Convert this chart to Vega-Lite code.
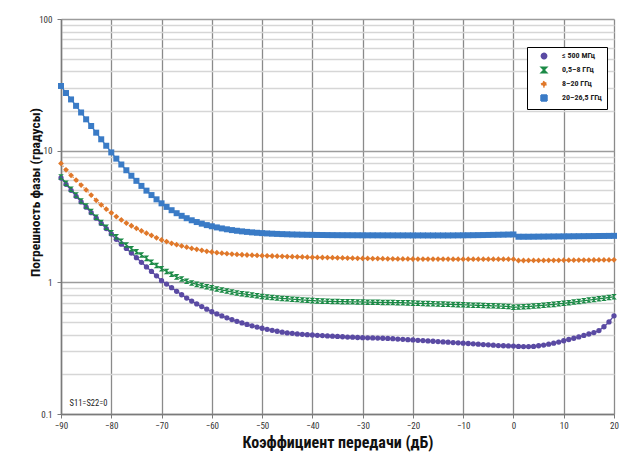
{
"$schema": "https://vega.github.io/schema/vega-lite/v6.json",
"width": 553, "height": 395,
"autosize": {"type": "none"},
"padding": {"left": 61, "top": 19, "right": 6, "bottom": 41},
"background": "white",
"config": {"view": {"stroke": null}, "font": "Liberation Sans Narrow, Roboto Condensed, Liberation Sans, sans-serif"},
"datasets": {
"curves": [
{"x":-90,"p":6.2,"g":6.3,"o":8.0,"b":31},
{"x":-89,"p":5.55,"g":5.65,"o":7.15,"b":27.4},
{"x":-88,"p":5.0,"g":5.1,"o":6.5,"b":24.5},
{"x":-87,"p":4.5,"g":4.6,"o":5.98,"b":21.9},
{"x":-86,"p":4.08,"g":4.15,"o":5.48,"b":19.5},
{"x":-85,"p":3.72,"g":3.8,"o":5.03,"b":17.3},
{"x":-84,"p":3.38,"g":3.45,"o":4.6,"b":15.4},
{"x":-83,"p":3.07,"g":3.12,"o":4.2,"b":13.7},
{"x":-82,"p":2.8,"g":2.85,"o":3.88,"b":12.2},
{"x":-81,"p":2.56,"g":2.62,"o":3.6,"b":10.9},
{"x":-80,"p":2.33,"g":2.38,"o":3.37,"b":9.7},
{"x":-79,"p":2.12,"g":2.22,"o":3.16,"b":8.7},
{"x":-78,"p":1.95,"g":2.05,"o":2.98,"b":7.85},
{"x":-77,"p":1.81,"g":1.92,"o":2.82,"b":7.1},
{"x":-76,"p":1.67,"g":1.8,"o":2.69,"b":6.45},
{"x":-75,"p":1.54,"g":1.71,"o":2.57,"b":5.9},
{"x":-74,"p":1.42,"g":1.61,"o":2.46,"b":5.4},
{"x":-73,"p":1.31,"g":1.52,"o":2.36,"b":4.97},
{"x":-72,"p":1.21,"g":1.42,"o":2.27,"b":4.6},
{"x":-71,"p":1.12,"g":1.34,"o":2.18,"b":4.27},
{"x":-70,"p":1.03,"g":1.27,"o":2.1,"b":3.98},
{"x":-69,"p":0.97,"g":1.21,"o":2.04,"b":3.74},
{"x":-68,"p":0.91,"g":1.15,"o":1.98,"b":3.53},
{"x":-67,"p":0.855,"g":1.1,"o":1.93,"b":3.35},
{"x":-66,"p":0.805,"g":1.06,"o":1.89,"b":3.2},
{"x":-65,"p":0.76,"g":1.02,"o":1.85,"b":3.07},
{"x":-64,"p":0.72,"g":0.99,"o":1.81,"b":2.96},
{"x":-63,"p":0.685,"g":0.965,"o":1.78,"b":2.87},
{"x":-62,"p":0.655,"g":0.945,"o":1.75,"b":2.79},
{"x":-61,"p":0.625,"g":0.925,"o":1.72,"b":2.72},
{"x":-60,"p":0.598,"g":0.91,"o":1.70,"b":2.666},
{"x":-59,"p":0.576,"g":0.89,"o":1.68,"b":2.613},
{"x":-58,"p":0.556,"g":0.875,"o":1.665,"b":2.567},
{"x":-57,"p":0.538,"g":0.86,"o":1.652,"b":2.528},
{"x":-56,"p":0.521,"g":0.845,"o":1.64,"b":2.493},
{"x":-55,"p":0.506,"g":0.83,"o":1.63,"b":2.464},
{"x":-54,"p":0.492,"g":0.82,"o":1.62,"b":2.438},
{"x":-53,"p":0.479,"g":0.81,"o":1.613,"b":2.416},
{"x":-52,"p":0.467,"g":0.80,"o":1.607,"b":2.396},
{"x":-51,"p":0.457,"g":0.79,"o":1.601,"b":2.379},
{"x":-50,"p":0.448,"g":0.78,"o":1.595,"b":2.365},
{"x":-49,"p":0.44,"g":0.773,"o":1.59,"b":2.352},
{"x":-48,"p":0.432,"g":0.767,"o":1.585,"b":2.341},
{"x":-47,"p":0.425,"g":0.761,"o":1.58,"b":2.332},
{"x":-46,"p":0.418,"g":0.755,"o":1.575,"b":2.324},
{"x":-45,"p":0.413,"g":0.75,"o":1.57,"b":2.317},
{"x":-44,"p":0.41,"g":0.745,"o":1.566,"b":2.31},
{"x":-43,"p":0.406,"g":0.74,"o":1.562,"b":2.305},
{"x":-42,"p":0.403,"g":0.735,"o":1.558,"b":2.30},
{"x":-41,"p":0.40,"g":0.73,"o":1.554,"b":2.296},
{"x":-40,"p":0.398,"g":0.726,"o":1.55,"b":2.293},
{"x":-39,"p":0.396,"g":0.723,"o":1.547,"b":2.29},
{"x":-38,"p":0.394,"g":0.72,"o":1.544,"b":2.287},
{"x":-37,"p":0.392,"g":0.718,"o":1.541,"b":2.285},
{"x":-36,"p":0.39,"g":0.716,"o":1.538,"b":2.283},
{"x":-35,"p":0.388,"g":0.714,"o":1.535,"b":2.281},
{"x":-34,"p":0.386,"g":0.713,"o":1.532,"b":2.28},
{"x":-33,"p":0.384,"g":0.712,"o":1.529,"b":2.279},
{"x":-32,"p":0.383,"g":0.711,"o":1.526,"b":2.278},
{"x":-31,"p":0.381,"g":0.71,"o":1.523,"b":2.277},
{"x":-30,"p":0.38,"g":0.709,"o":1.52,"b":2.276},
{"x":-29,"p":0.379,"g":0.707,"o":1.518,"b":2.275},
{"x":-28,"p":0.378,"g":0.706,"o":1.516,"b":2.275},
{"x":-27,"p":0.377,"g":0.705,"o":1.514,"b":2.274},
{"x":-26,"p":0.376,"g":0.704,"o":1.512,"b":2.274},
{"x":-25,"p":0.375,"g":0.703,"o":1.51,"b":2.273},
{"x":-24,"p":0.373,"g":0.702,"o":1.508,"b":2.273},
{"x":-23,"p":0.371,"g":0.701,"o":1.507,"b":2.272},
{"x":-22,"p":0.369,"g":0.70,"o":1.506,"b":2.272},
{"x":-21,"p":0.367,"g":0.698,"o":1.505,"b":2.272},
{"x":-20,"p":0.365,"g":0.695,"o":1.504,"b":2.271},
{"x":-19,"p":0.363,"g":0.693,"o":1.503,"b":2.271},
{"x":-18,"p":0.361,"g":0.691,"o":1.503,"b":2.271},
{"x":-17,"p":0.359,"g":0.689,"o":1.502,"b":2.27},
{"x":-16,"p":0.357,"g":0.687,"o":1.502,"b":2.27},
{"x":-15,"p":0.355,"g":0.685,"o":1.501,"b":2.27},
{"x":-14,"p":0.353,"g":0.683,"o":1.501,"b":2.27},
{"x":-13,"p":0.351,"g":0.681,"o":1.501,"b":2.27},
{"x":-12,"p":0.349,"g":0.679,"o":1.50,"b":2.272},
{"x":-11,"p":0.347,"g":0.677,"o":1.50,"b":2.274},
{"x":-10,"p":0.345,"g":0.675,"o":1.50,"b":2.276},
{"x":-9,"p":0.343,"g":0.673,"o":1.50,"b":2.278},
{"x":-8,"p":0.341,"g":0.671,"o":1.50,"b":2.28},
{"x":-7,"p":0.339,"g":0.669,"o":1.50,"b":2.283},
{"x":-6,"p":0.337,"g":0.667,"o":1.50,"b":2.286},
{"x":-5,"p":0.335,"g":0.665,"o":1.50,"b":2.29},
{"x":-4,"p":0.333,"g":0.663,"o":1.50,"b":2.294},
{"x":-3,"p":0.331,"g":0.661,"o":1.50,"b":2.298},
{"x":-2,"p":0.330,"g":0.659,"o":1.50,"b":2.302},
{"x":-1,"p":0.329,"g":0.656,"o":1.50,"b":2.306},
{"x":0,"p":0.328,"g":0.646,"o":1.50,"b":2.31},
{"x":1,"p":0.326,"g":0.65,"o":1.465,"b":2.22},
{"x":2,"p":0.325,"g":0.652,"o":1.465,"b":2.22},
{"x":3,"p":0.325,"g":0.655,"o":1.466,"b":2.22},
{"x":4,"p":0.326,"g":0.66,"o":1.466,"b":2.222},
{"x":5,"p":0.33,"g":0.665,"o":1.467,"b":2.224},
{"x":6,"p":0.334,"g":0.67,"o":1.468,"b":2.226},
{"x":7,"p":0.339,"g":0.675,"o":1.469,"b":2.228},
{"x":8,"p":0.345,"g":0.68,"o":1.47,"b":2.23},
{"x":9,"p":0.352,"g":0.687,"o":1.471,"b":2.232},
{"x":10,"p":0.36,"g":0.693,"o":1.472,"b":2.234},
{"x":11,"p":0.368,"g":0.70,"o":1.473,"b":2.236},
{"x":12,"p":0.376,"g":0.708,"o":1.474,"b":2.238},
{"x":13,"p":0.385,"g":0.716,"o":1.475,"b":2.24},
{"x":14,"p":0.395,"g":0.725,"o":1.476,"b":2.242},
{"x":15,"p":0.405,"g":0.733,"o":1.477,"b":2.244},
{"x":16,"p":0.415,"g":0.742,"o":1.478,"b":2.246},
{"x":17,"p":0.43,"g":0.75,"o":1.479,"b":2.248},
{"x":18,"p":0.46,"g":0.758,"o":1.48,"b":2.25},
{"x":19,"p":0.50,"g":0.767,"o":1.481,"b":2.252},
{"x":20,"p":0.557,"g":0.777,"o":1.482,"b":2.254}
],
"note": [{"x": -88.3, "v": 0.121, "t": "S11=S22=0"}]
},
"encoding": {
  "x": {"field": "x", "type": "quantitative",
    "scale": {"domain": [-90, 20], "nice": false, "zero": false},
    "axis": {"title": "Коэффициент передачи (дБ)", "values": [-90,-80,-70,-60,-50,-40,-30,-20,-10,0,10,20],
      "labelFlush": false,
      "grid": true, "gridColor": "#8a8a8a", "gridWidth": 1.3, "domainColor": "#7a7a7a", "domainWidth": 1.5,
      "tickColor": "#7a7a7a", "tickSize": 4, "labelFontSize": 9, "labelColor": "#333333", "labelPadding": 3,
      "titleFontSize": 16, "titleFontWeight": "bold", "titleColor": "#111111", "titlePadding": 4}},
  "y": {"field": "v", "type": "quantitative",
    "scale": {"type": "log", "domain": [0.1, 100], "nice": false},
    "axis": {"title": "Погрешность фазы (градусы)",
      "values": [0.1,0.2,0.3,0.4,0.5,0.6,0.7,0.8,0.9,1,2,3,4,5,6,7,8,9,10,20,30,40,50,60,70,80,90,100],
      "labelExpr": "datum.value == 0.1 ? '0.1' : (datum.value == 1 || datum.value == 10 || datum.value == 100) ? format(datum.value, 'd') : ''",
      "labelFlush": false,
      "grid": true,
      "gridColor": {"condition": {"test": "datum.value == 0.1 || datum.value == 1 || datum.value == 10 || datum.value == 100", "value": "#9c9c9c"}, "value": "#d6d6d6"},
      "gridWidth": 1.5,
      "tickOpacity": {"condition": {"test": "datum.value == 0.1 || datum.value == 1 || datum.value == 10 || datum.value == 100", "value": 1}, "value": 0},
      "domainColor": "#7a7a7a", "domainWidth": 1.5, "tickColor": "#7a7a7a", "tickSize": 4,
      "labelFontSize": 9, "labelColor": "#333333", "labelPadding": 5,
      "titleFontSize": 13.5, "titleFontWeight": "bold", "titleColor": "#111111",
      "titleX": -26, "titleY": 173, "titleAngle": 270, "titleAlign": "center", "titleBaseline": "middle"}}
},
"layer": [
  {
    "data": {"name": "curves"},
    "transform": [{"fold": ["p", "g", "o", "b"], "as": ["s", "v"]}],
    "layer": [
      {
        "mark": {"type": "line", "strokeWidth": 1.3},
        "encoding": {
          "color": {"field": "s", "type": "nominal",
            "scale": {"domain": ["p", "g", "o", "b"], "range": ["#5a4aa3", "#1b8a46", "#e0782a", "#3a7bc6"]}},
          "strokeDash": {"field": "s", "type": "nominal", "legend": null,
            "scale": {"domain": ["p", "g", "o", "b"], "range": [[1, 0], [1, 0], [1, 2], [1, 0]]}}
        }
      },
      {
        "mark": {"type": "point", "filled": true, "opacity": 1, "strokeWidth": 1.5, "strokeOpacity": 0.35},
        "encoding": {
          "color": {"field": "s", "type": "nominal",
            "scale": {"domain": ["p", "g", "o", "b"], "range": ["#5a4aa3", "#1b8a46", "#e0782a", "#3a7bc6"]},
            "legend": {"title": null, "orient": "none", "legendX": 466, "legendY": 28,
              "strokeColor": "#000000", "fillColor": "#ffffff", "padding": 5, "rowPadding": 2,
              "labelFontSize": 8, "labelFontWeight": "bold", "labelColor": "#222222", "symbolSize": 34,
              "symbolOffset": 8, "labelOffset": 14, "labelLimit": 200,
              "labelExpr": "datum.label == 'p' ? '≤ 500 МГц' : datum.label == 'g' ? '0,5–8 ГГц' : datum.label == 'o' ? '8–20 ГГц' : '20–26,5 ГГц'"}},
          "shape": {"field": "s", "type": "nominal",
            "scale": {"domain": ["p", "g", "o", "b"], "range": ["circle", "M-1,-1L1,-1L-1,1L1,1Z", "diamond", "square"]}},
          "size": {"field": "s", "type": "nominal", "legend": null,
            "scale": {"domain": ["p", "g", "o", "b"], "range": [28, 36, 20, 28]}}
        }
      }
    ]
  },
  {
    "data": {"name": "note"},
    "mark": {"type": "text", "align": "left", "baseline": "middle", "fontSize": 8.5, "color": "#222222"},
    "encoding": {"text": {"field": "t"}}
  }
]
}
